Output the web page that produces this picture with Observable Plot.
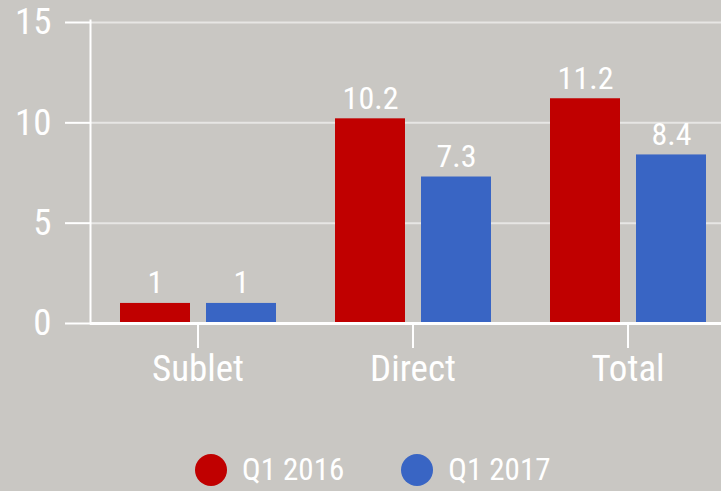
<!DOCTYPE html>
<html>
<head>
<meta charset="utf-8">
<script src="https://cdn.jsdelivr.net/npm/d3@7"></script>
<script src="https://cdn.jsdelivr.net/npm/@observablehq/plot@0.6"></script>
<style>
  html, body { margin: 0; padding: 0; background: #c9c7c3; }
  body { width: 721px; height: 491px; overflow: hidden; font-family: "Roboto Condensed", "Liberation Sans Narrow", Roboto, sans-serif; }
  #chart svg { display: block; }
  #legend { height: 51px; display: flex; justify-content: flex-start; align-items: flex-start; color: white; font-size: 31px; padding-top: 14px; padding-left: 195px; box-sizing: border-box; }
  .item { display: flex; align-items: center; margin-right: 57px; height: 32px; }
  .item span { line-height: 24px; display: block; }
  .sw { width: 32px; height: 32px; border-radius: 50%; margin-right: 15px; }
</style>
</head>
<body>
<div id="chart"></div>
<div id="legend"></div>
<script>
const categories = ["Sublet", "Direct", "Total"];
const series = ["Q1 2016", "Q1 2017"];
const values2016 = [1, 10.2, 11.2];
const values2017 = [1, 7.3, 8.4];
const colors = ["#c00000", "#3965c4"];
const yTicks = [0, 5, 10, 15];

const d2016 = categories.map((c, i) => ({category: c, value: values2016[i]}));
const d2017 = categories.map((c, i) => ({category: c, value: values2017[i]}));

const chart = Plot.plot({
  width: 721,
  height: 440,
  marginLeft: 90,
  marginRight: 0,
  marginTop: 20,
  marginBottom: 117,
  style: {background: "#c9c7c3", color: "white", fontFamily: "'Roboto Condensed', 'Liberation Sans Narrow', Roboto, sans-serif"},
  x: {domain: categories, range: [90, 735], padding: 0},
  y: {domain: [0, 15], range: [323, 22]},
  marks: [
    Plot.gridY(yTicks.slice(1), {stroke: "white", strokeOpacity: 0.55, strokeWidth: 2}),
    Plot.barY(d2016, {x: "category", y: "value", fill: colors[0], insetLeft: 30, insetRight: 115}),
    Plot.barY(d2017, {x: "category", y: "value", fill: colors[1], insetLeft: 116, insetRight: 29}),
    Plot.text(d2016, {x: "category", y: "value", text: d => String(d.value), dx: -42.5, dy: -10, lineAnchor: "bottom", fill: "white", fontSize: 32}),
    Plot.text(d2017, {x: "category", y: "value", text: d => String(d.value), dx: 43.5, dy: -10, lineAnchor: "bottom", fill: "white", fontSize: 32}),
    Plot.ruleY([0], {stroke: "white", strokeWidth: 3}),
    Plot.frame({anchor: "left", stroke: "white", strokeWidth: 2}),
    Plot.axisY(yTicks, {tickSize: 25, tickPadding: 14, fontSize: 37, stroke: "white", strokeWidth: 2, label: null, fill: "white"}),
    Plot.axisX({tickSize: 25, tickPadding: 6, fontSize: 37, stroke: "white", strokeWidth: 2, label: null, fill: "white"})
  ]
});
document.getElementById("chart").appendChild(chart);

const legend = document.getElementById("legend");
series.forEach((s, i) => {
  const item = document.createElement("div");
  item.className = "item";
  const sw = document.createElement("div");
  sw.className = "sw";
  sw.style.background = colors[i];
  const label = document.createElement("span");
  label.textContent = s;
  item.appendChild(sw);
  item.appendChild(label);
  legend.appendChild(item);
});
</script>
</body>
</html>
